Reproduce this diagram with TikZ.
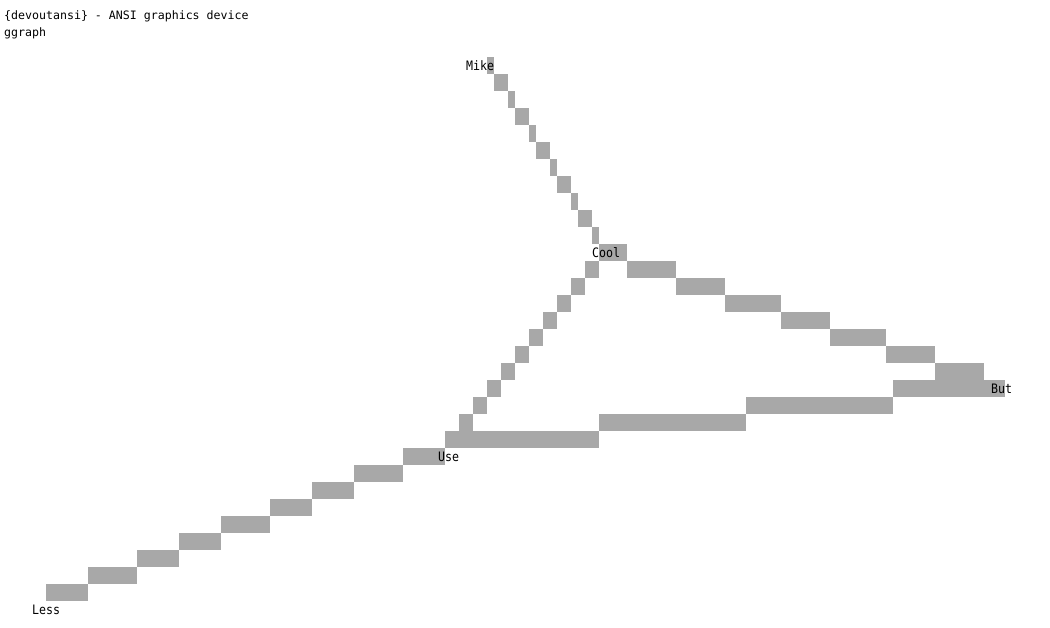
\documentclass[tikz,border=0pt]{standalone}
\usepackage{fontspec}
\newfontfamily\ansihead{DejaVu Sans Mono}
\newfontfamily\ansilabel[FakeStretch=0.894]{DejaVu Sans Mono}
\definecolor{cellgray}{RGB}{168,168,168}
% one run of grey cells in a row of the character grid: row, first col, last col
\newcommand{\cellrun}[3]{\fill[cellgray] ({4+7*#2},{5.7+17*#1}) rectangle ({11+7*#3},{22.7+17*#1});}

\begin{document}
\begin{tikzpicture}[
      x=1pt, y=-1pt,
      every node/.style={inner sep=0pt, anchor=base west},
      headtext/.style={font=\ansihead\fontsize{11.6pt}{17pt}\selectfont},
      vertex/.style={font=\ansilabel\fontsize{13pt}{17pt}\selectfont},
    ]
    \useasboundingbox[fill=white] (0,0) rectangle (1050,627);
    % Mike -- Cool
    \foreach \r/\a/\b in {3/69/69,4/70/71,5/72/72,6/73/74,7/75/75,8/76/77,
        9/78/78,10/79/80,11/81/81,12/82/83,13/84/84,14/85/88}
      {\cellrun{\r}{\a}{\b}}
    % Cool -- But
    \foreach \r/\a/\b in {15/89/95,16/96/102,17/103/110,18/111/117,
        19/118/125,20/126/132,21/133/139,22/127/142}
      {\cellrun{\r}{\a}{\b}}
    % Cool -- Use
    \foreach \r/\a/\b in {15/83/84,16/81/82,17/79/80,18/77/78,19/75/76,
        20/73/74,21/71/72,22/69/70,23/67/68,24/65/66}
      {\cellrun{\r}{\a}{\b}}
    % Use -- But
    \foreach \r/\a/\b in {23/106/126,24/85/105,25/63/84}
      {\cellrun{\r}{\a}{\b}}
    % Less -- Use
    \foreach \r/\a/\b in {26/57/62,27/50/56,28/44/49,29/38/43,30/31/37,
        31/25/30,32/19/24,33/12/18,34/6/11}
      {\cellrun{\r}{\a}{\b}}

    \node[headtext] (devtitle) at (4,19.5) {\{devoutansi\} - ANSI graphics device};
    \node[headtext] (ggtitle) at (4,36.5) {ggraph};

    \node[vertex] (mike) at ({4+7*66},{19.7+17*3}) {Mike};
    \node[vertex] (cool) at ({4+7*84},{19.7+17*14}) {Cool};
    \node[vertex] (but) at ({4+7*141},{19.7+17*22}) {But};
    \node[vertex] (use) at ({4+7*62},{19.7+17*26}) {Use};
    \node[vertex] (less) at ({4+7*4},{19.7+17*35}) {Less};
    \end{tikzpicture}
\end{document}
